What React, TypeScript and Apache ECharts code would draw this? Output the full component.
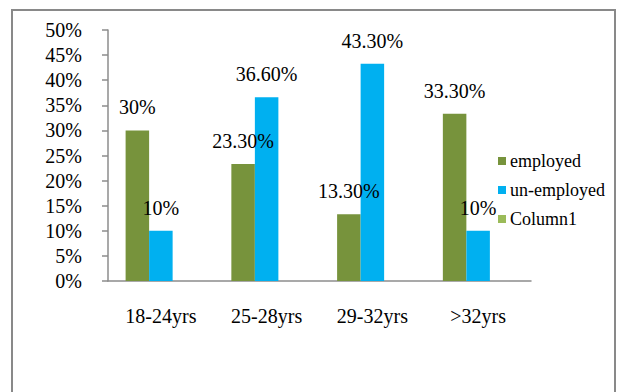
import React, { useEffect, useRef } from "react";
import * as echarts from "echarts";

const categories = ["18-24yrs", "25-28yrs", "29-32yrs", ">32yrs"];
const employed = [30, 23.3, 13.3, 33.3];
const unemployed = [10, 36.6, 43.3, 10];
const column1: (number | null)[] = [null, null, null, null];

const FONT = "Liberation Serif";
const AXIS_GRAY = "#8c8c8c";

const pct = (v: number) => (Number.isInteger(v) ? `${v}%` : `${v.toFixed(2)}%`);

export default function App() {
  const ref = useRef<HTMLDivElement>(null);

  useEffect(() => {
    if (!ref.current) return;
    const chart = echarts.init(ref.current, undefined, { renderer: "svg" });
    const label = {
      show: true,
      position: "top",
      distance: 13,
      fontFamily: FONT,
      fontSize: 20,
      color: "#000",
      formatter: (p: any) => pct(p.value),
    };
    chart.setOption({
      animation: false,
      backgroundColor: "#fff",
      textStyle: { fontFamily: FONT },
      graphic: [
        {
          type: "rect",
          shape: { x: 12, y: 10, width: 603, height: 400 },
          style: { fill: "none", stroke: "#898989", lineWidth: 2 },
          silent: true,
        },
      ],
      grid: { left: 108, right: 88, top: 30, bottom: 111 },
      legend: {
        orient: "vertical",
        left: 493,
        top: 147,
        itemWidth: 8,
        itemHeight: 8,
        itemGap: 11,
        icon: "rect",
        textStyle: { fontFamily: FONT, fontSize: 18, color: "#000", padding: [0, 0, 0, -1] },
        data: ["employed", "un-employed", "Column1"],
      },
      xAxis: {
        type: "category",
        data: categories,
        axisLine: { lineStyle: { color: AXIS_GRAY, width: 1.5 } },
        axisTick: { length: 6, lineStyle: { color: AXIS_GRAY, width: 1.5 } },
        axisLabel: { margin: 25, fontFamily: FONT, fontSize: 20, color: "#000" },
      },
      yAxis: {
        type: "value",
        min: 0,
        max: 50,
        interval: 5,
        splitLine: { show: false },
        axisLine: { show: true, lineStyle: { color: AXIS_GRAY, width: 1.5 } },
        axisTick: { show: true, length: 6, lineStyle: { color: AXIS_GRAY, width: 1.5 } },
        axisLabel: {
          margin: 26,
          fontFamily: FONT,
          fontSize: 20,
          color: "#000",
          formatter: "{value}%",
        },
      },
      series: [
        {
          name: "employed",
          type: "bar",
          data: employed,
          barGap: "0%",
          barCategoryGap: "33.3%",
          itemStyle: { color: "#77933C" },
          label,
        },
        {
          name: "un-employed",
          type: "bar",
          data: unemployed,
          barGap: "0%",
          barCategoryGap: "33.3%",
          itemStyle: { color: "#00B0F0" },
          label,
        },
        {
          name: "Column1",
          type: "bar",
          data: column1,
          barGap: "0%",
          barCategoryGap: "33.3%",
          itemStyle: { color: "#9BBB59" },
        },
      ],
    });
    return () => chart.dispose();
  }, []);

  return (
    <div
      ref={ref}
      style={{ position: "fixed", left: 0, top: 0, width: 619, height: 392 }}
    />
  );
}
